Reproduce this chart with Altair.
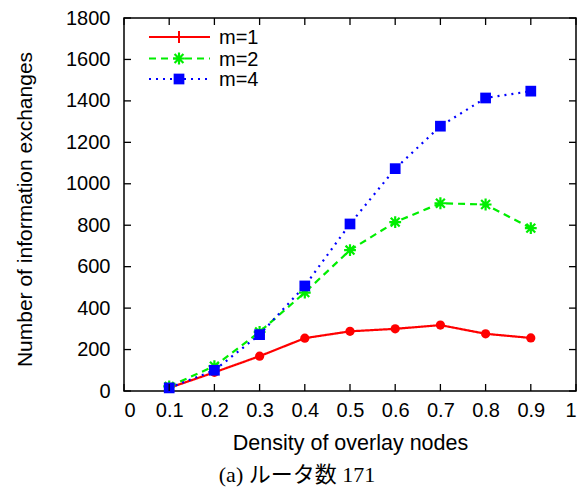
import altair as alt
import pandas as pd

density = [0.1, 0.2, 0.3, 0.4, 0.5, 0.6, 0.7, 0.8, 0.9]
m1 = [15, 90, 168, 255, 288, 300, 318, 276, 256]
m2 = [22, 120, 285, 475, 680, 815, 906, 900, 786]
m4 = [15, 100, 272, 507, 806, 1073, 1278, 1414, 1447]
series_names = ["m=1", "m=2", "m=4"]
colors = ["#ff0000", "#00ee00", "#0000ff"]
x_ticks = [0, 0.1, 0.2, 0.3, 0.4, 0.5, 0.6, 0.7, 0.8, 0.9, 1]
y_ticks = [0, 200, 400, 600, 800, 1000, 1200, 1400, 1600, 1800]
x_title = "Density of overlay nodes"
y_title = "Number of information exchanges"
caption = ["(a) ルータ数 171"]

W, H = 452, 373
FONT = "Liberation Sans"
FS = 20

rows = []
for name, vals in zip(series_names, [m1, m2, m4]):
    for d, v in zip(density, vals):
        rows.append({"x": d, "y": v, "series": name})
df = pd.DataFrame(rows)

xs = alt.Scale(domain=[0, 1], nice=False)
ys = alt.Scale(domain=[0, 1800], nice=False)

xax = alt.Axis(values=x_ticks, format="~g", grid=False, ticks=False, domain=False,
               labelFont=FONT, labelFontSize=FS, labelColor="black", labelPadding=9,
               title=x_title, titleFont=FONT, titleFontSize=21.5, titleFontWeight="normal",
               titleColor="black", titleY=41, titleBaseline="top", titleX=W / 2)
yax = alt.Axis(values=y_ticks, format="d", grid=False, ticks=False, domain=False,
               labelFont=FONT, labelFontSize=FS, labelColor="black", labelPadding=14,
               title=y_title, titleFont=FONT, titleFontSize=21, titleFontWeight="normal",
               titleColor="black", titleX=-93, titleY=191, titleBaseline="alphabetic",
               titleAngle=270)

X = alt.X("x:Q", scale=xs, axis=xax)
Y = alt.Y("y:Q", scale=ys, axis=yax)

base = alt.Chart(df)

star = "M-1,0L1,0M0,-1L0,1M-0.75,-0.75L0.75,0.75M-0.75,0.75L0.75,-0.75"
plus = "M-1,0L1,0M0,-1L0,1"

layers = []
styles = [
    dict(dash=[1, 0], shape="circle", filled=True, size=85, sw=1),
    dict(dash=[7, 5], shape=star, filled=False, size=140, sw=2.2),
    dict(dash=[2, 5], shape="square", filled=True, size=115, sw=1),
]
for i, (name, st) in enumerate(zip(series_names, styles)):
    sub = base.transform_filter(alt.datum.series == name)
    line = sub.mark_line(color=colors[i], strokeWidth=2.2, strokeDash=st["dash"]).encode(x=X, y=Y)
    pt = sub.mark_point(shape=st["shape"], filled=st["filled"], size=st["size"],
                        color=colors[i], opacity=1, strokeWidth=st["sw"]).encode(x=X, y=Y)
    layers += [line, pt]

# inward ticks on all four sides
ydf = pd.DataFrame({"y": y_ticks})
xdf = pd.DataFrame({"x": x_ticks})
tl = 7
layers.append(alt.Chart(ydf).mark_rule(color="black", strokeWidth=1.3).encode(
    y=Y, x=alt.value(0), x2=alt.value(tl)))
layers.append(alt.Chart(ydf).mark_rule(color="black", strokeWidth=1.3).encode(
    y=Y, x=alt.value(W - tl), x2=alt.value(W)))
layers.append(alt.Chart(xdf).mark_rule(color="black", strokeWidth=1.3).encode(
    x=X, y=alt.value(H - tl), y2=alt.value(H)))
layers.append(alt.Chart(xdf).mark_rule(color="black", strokeWidth=1.3).encode(
    x=X, y=alt.value(0), y2=alt.value(tl)))

# legend
leg_y = [19, 40.5, 61]
leg_shapes = [plus, star, "square"]
leg_filled = [False, False, True]
leg_sizes = [140, 140, 115]
leg_sw = [2, 2.2, 1]
for i, name in enumerate(series_names):
    ldf = pd.DataFrame({"series": [name]})
    layers.append(alt.Chart(ldf).mark_rule(color=colors[i], strokeWidth=2.2,
                                           strokeDash=styles[i]["dash"]).encode(
        x=alt.value(25), x2=alt.value(86), y=alt.value(leg_y[i])))
    layers.append(alt.Chart(ldf).mark_point(shape=leg_shapes[i], filled=leg_filled[i],
                                            size=leg_sizes[i], color=colors[i], opacity=1,
                                            strokeWidth=leg_sw[i]).encode(
        x=alt.value(55), y=alt.value(leg_y[i])))
    layers.append(alt.Chart(ldf).mark_text(align="left", baseline="middle", font=FONT,
                                           fontSize=FS, color="black").encode(
        x=alt.value(95), y=alt.value(leg_y[i] + 1), text="series:N"))

# caption
cdf = pd.DataFrame({"c": caption})
layers.append(alt.Chart(cdf).mark_text(align="center", baseline="middle",
                                       font="Liberation Serif, Noto Sans CJK JP",
                                       fontSize=22, color="black").encode(
    x=alt.value(173), y=alt.value(457), text="c:N"))

chart = alt.layer(*layers).properties(
    width=W, height=H,
    padding={"left": 116, "top": 10, "right": 3, "bottom": 100},
    autosize=alt.AutoSizeParams(type="none"),
).configure_view(stroke="black", strokeWidth=1.5)

chart.save("out.html", embed_options={"renderer": "svg", "actions": False})
